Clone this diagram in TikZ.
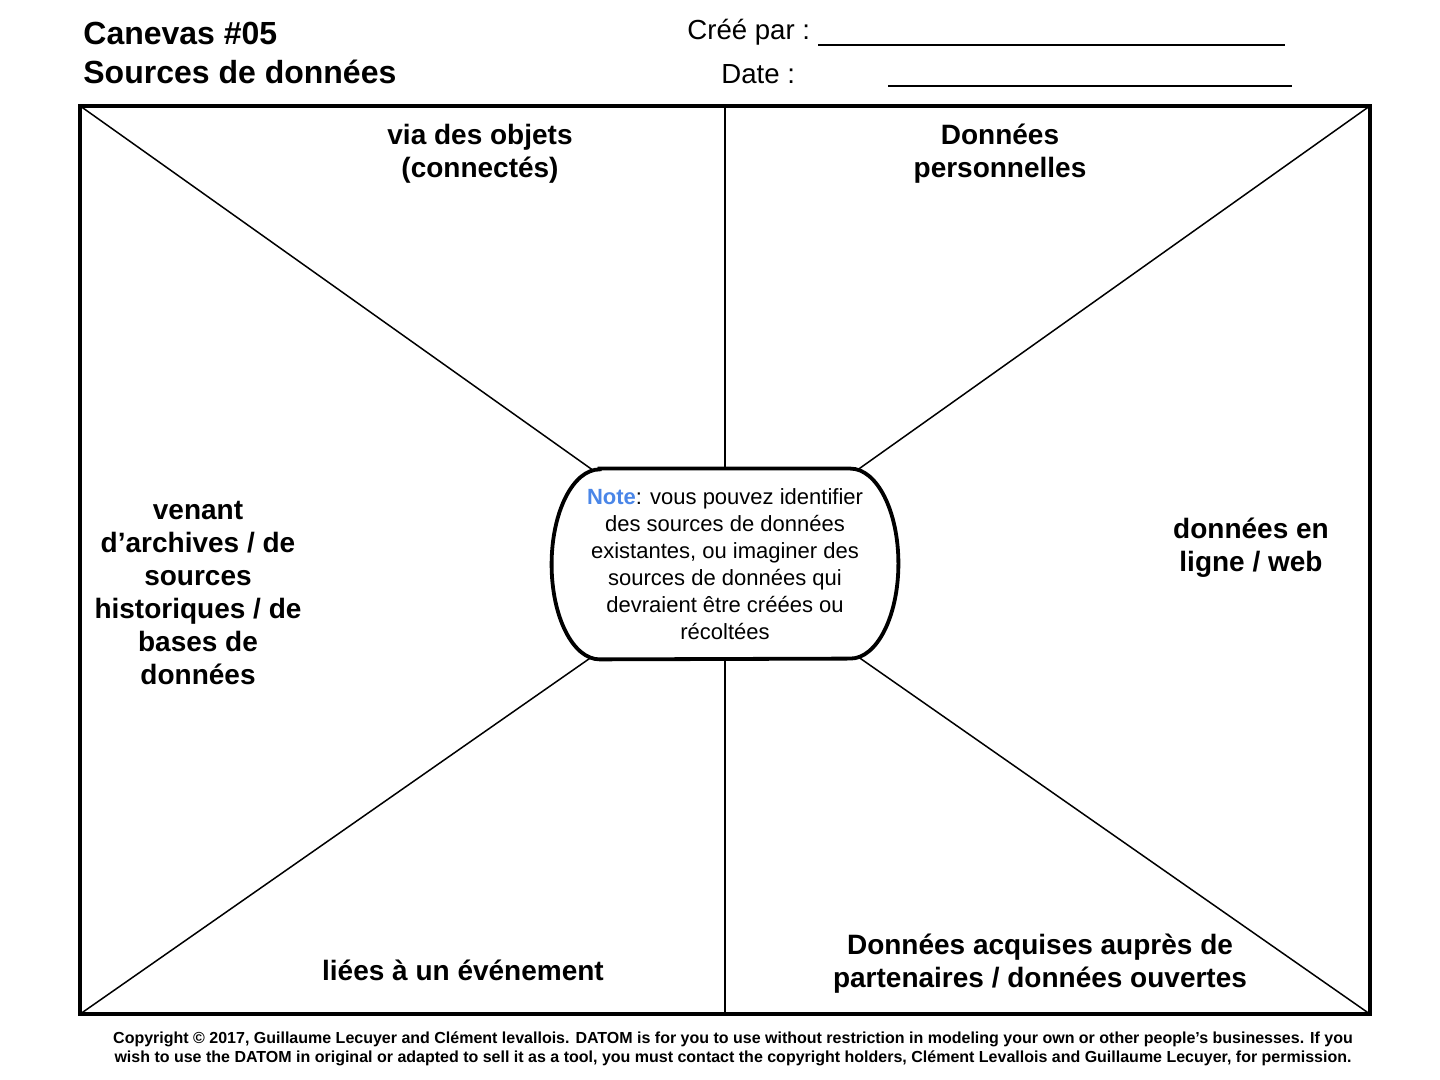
\documentclass[tikz,border=0pt]{standalone}
\usepackage{fontspec}
\setmainfont{Liberation Sans}
\definecolor{noteblue}{HTML}{4A86E8}
\begin{document}
\begin{tikzpicture}[x=0.5pt, y=0.5pt,
  zone/.style={align=center, inner sep=0pt, font=\fontsize{14}{16.5}\selectfont\bfseries},
  thinline/.style={line width=0.75pt}]
\useasboundingbox (0,0) rectangle (1440,1080);
\node[minimum width=645pt, minimum height=454pt, inner sep=0pt] (frame) at (725,520) {};
\node[minimum width=173pt, minimum height=95pt, inner sep=0pt] (note) at (725,516) {};
\draw[thinline] (frame.north west) -- (note.center);
\draw[thinline] (frame.north east) -- (note.center);
\draw[thinline] (frame.south west) -- (note.center);
\draw[thinline] (frame.south east) -- (note.center);
\draw[thinline] (frame.north) -- (note.center);
\draw[thinline] (frame.south) -- (note.center);
\draw[line width=2pt] (frame.north west) rectangle (frame.south east);
\draw[line width=1.9pt, fill=white] ([xshift=24pt]note.north west) -- ([xshift=-24pt]note.north east)
  arc[start angle=90, end angle=-90, x radius=24pt, y radius=47.5pt]
  -- ([xshift=24pt]note.south west)
  arc[start angle=270, end angle=90, x radius=24pt, y radius=47.5pt] -- cycle;
\node[align=center, inner sep=0pt, font=\fontsize{11}{13.5}\selectfont] (notetext) at (note.center) {\textcolor{noteblue}{\bfseries Note}: vous pouvez identifier\\des sources de données\\existantes, ou imaginer des\\sources de données qui\\devraient être créées ou\\récoltées};
\node[zone] (objets) at (480,926.5) {via des objets\\(connectés)};
\node[zone] (perso) at (1000,926.5) {Données\\personnelles};
\node[zone] (archives) at (198,486.5) {venant\\d’archives / de\\sources\\historiques / de\\bases de\\données};
\node[zone] (web) at (1251,532.5) {données en\\ligne / web};
\node[zone] (evenement) at (463,110) {liées à un événement};
\node[zone] (partenaires) at (1040,116.5) {Données acquises auprès de\\partenaires / données ouvertes};
\node[anchor=west, align=left, inner sep=0pt, font=\fontsize{16}{19.5}\selectfont\bfseries] (titre) at (83,1027) {Canevas \#05\\Sources de données};
\node[anchor=west, inner sep=0pt, font=\fontsize{13.8}{16.5}\selectfont] (creepar) at (687,1048) {Créé par :};
\node[anchor=west, inner sep=0pt, font=\fontsize{13.8}{16.5}\selectfont] (date) at (721,1006) {Date :};
\draw[line width=1pt] (818,1035) -- (1285,1035);
\draw[line width=1pt] (888,994) -- (1292,994);
\node[align=center, inner sep=0pt, font=\fontsize{8}{9.5}\selectfont\bfseries] (copyright) at (733,31.5) {Copyright © 2017, Guillaume Lecuyer and Clément levallois. DATOM is for you to use without restriction in modeling your own or other people's businesses. If you\\wish to use the DATOM in original or adapted to sell it as a tool, you must contact the copyright holders, Clément Levallois and Guillaume Lecuyer, for permission.};
\end{tikzpicture}
\end{document}
